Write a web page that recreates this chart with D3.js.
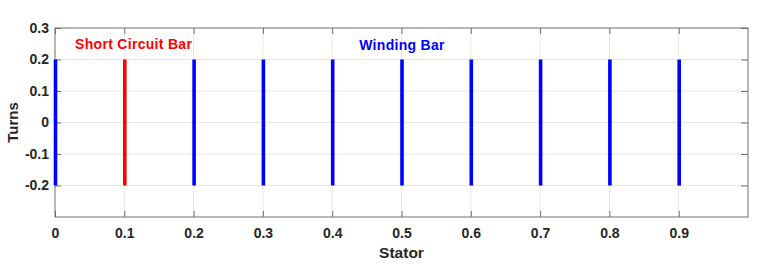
<!DOCTYPE html>
<meta charset="utf-8">
<style>
body { margin: 0; background: #fff; }
text { font-family: "Liberation Sans", Arial, sans-serif; }
.tick text { font-weight: bold; font-size: 14px; fill: #262626; }
.grid line { stroke: #e6e6e6; stroke-width: 1; }
</style>
<body>
<svg width="768" height="265"></svg>
<script src="https://d3js.org/d3.v7.min.js"></script>
<script>

// bar positions along the stator and their kind
var barPos  = [0, 0.1, 0.2, 0.3, 0.4, 0.5, 0.6, 0.7, 0.8, 0.9];
var barKind = ["winding", "short", "winding", "winding", "winding", "winding", "winding", "winding", "winding", "winding"];
var barLow = -0.2, barHigh = 0.2;

var xTicks = [0, 0.1, 0.2, 0.3, 0.4, 0.5, 0.6, 0.7, 0.8, 0.9];
var yTicks = [-0.2, -0.1, 0, 0.1, 0.2, 0.3];

var labels = [
  { text: "Short Circuit Bar", x: 0.029, y: 0.232, color: "#ff0000" },
  { text: "Winding Bar",       x: 0.439, y: 0.230, color: "#0000ff" }
];

var svg = d3.select("svg"),
    margin = {top: 28, right: 20, bottom: 48, left: 55},
    width = 768 - margin.left - margin.right,
    height = 265 - margin.top - margin.bottom;

var x = d3.scaleLinear().domain([0, 1]).range([0, width]);
var y = d3.scaleLinear().domain([-0.3, 0.3]).range([height, 0]);

var g = svg.append("g")
    .attr("transform", "translate(" + margin.left + "," + margin.top + ")");

// grid
g.append("g").attr("class", "grid")
  .selectAll("line").data(xTicks.slice(1)).enter().append("line")
    .attr("x1", function(d) { return x(d); }).attr("x2", function(d) { return x(d); })
    .attr("y1", 0).attr("y2", height);
g.append("g").attr("class", "grid")
  .selectAll("line").data(yTicks.slice(0, -1)).enter().append("line")
    .attr("y1", function(d) { return y(d); }).attr("y2", function(d) { return y(d); })
    .attr("x1", 0).attr("x2", width);

// axes (ticks pointing inward)
var axisColor = "#6e6e6e";
function styleAxis(sel) {
  sel.select(".domain").remove();
  sel.selectAll(".tick line").attr("stroke", axisColor);
}
// plain hyphen for negatives, like the original
function fmt(d) { return String(+d.toFixed(1)); }

g.append("g")
    .attr("transform", "translate(0," + height + ")")
    .call(d3.axisBottom(x).tickValues(xTicks).tickSize(-6).tickPadding(11).tickFormat(fmt))
    .call(styleAxis);

g.append("g")
    .call(d3.axisTop(x).tickValues(xTicks).tickSize(-6).tickFormat(""))
    .call(styleAxis);

g.append("g")
    .call(d3.axisLeft(y).tickValues(yTicks).tickSize(-6).tickPadding(6).tickFormat(fmt))
    .call(styleAxis);

g.append("g")
    .attr("transform", "translate(" + width + ",0)")
    .call(d3.axisRight(y).tickValues(yTicks).tickSize(-7).tickFormat(""))
    .call(styleAxis);

// box
g.append("rect")
    .attr("width", width).attr("height", height)
    .attr("fill", "none").attr("stroke", axisColor).attr("stroke-width", 1);

// bars
g.selectAll(".bar").data(barPos).enter().append("line")
    .attr("class", "bar")
    .attr("x1", function(d) { return x(d) + 0.5; })
    .attr("x2", function(d) { return x(d) + 0.5; })
    .attr("y1", y(barLow)).attr("y2", y(barHigh))
    .attr("stroke", function(d, i) { return barKind[i] === "short" ? "#ff0000" : "#0000ff"; })
    .attr("stroke-width", 3.6);

// annotations
g.selectAll(".note").data(labels).enter().append("text")
    .attr("x", function(d) { return x(d.x); })
    .attr("y", function(d) { return y(d.y); })
    .attr("fill", function(d) { return d.color; })
    .attr("font-weight", "bold")
    .attr("font-size", "14px")
    .attr("letter-spacing", "0.3px")
    .text(function(d) { return d.text; });

// axis titles
g.append("text")
    .attr("x", width / 2).attr("y", height + 41)
    .attr("text-anchor", "middle")
    .attr("font-weight", "bold").attr("font-size", "15.5px").attr("fill", "#262626")
    .text("Stator");

g.append("text")
    .attr("transform", "rotate(-90)")
    .attr("x", -height / 2).attr("y", -37)
    .attr("text-anchor", "middle")
    .attr("font-weight", "bold").attr("font-size", "15px").attr("fill", "#262626")
    .text("Turns");

</script>
</body>
